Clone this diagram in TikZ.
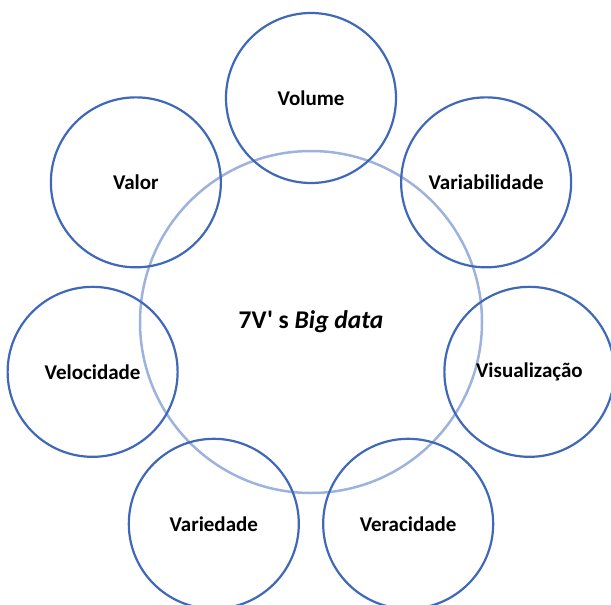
\documentclass[tikz,border=0pt]{standalone}
\usepackage{fontspec}
\usetikzlibrary{calc}
\setmainfont{Carlito}
\newfontfamily\plainfont{Carlito}
\definecolor{outerblue}{HTML}{4068B8}
\definecolor{innerblue}{HTML}{9DB3DE}
\begin{document}
\begin{tikzpicture}[x=1pt,y=-1pt,
  outer/.style={circle,draw=outerblue,line width=2.2pt,minimum size=170pt,inner sep=0pt},
  inner/.style={circle,draw=innerblue,line width=2.5pt,minimum size=342pt,inner sep=0pt},
  lbl/.style={font=\fontsize{21}{24}\selectfont\bfseries}]
\useasboundingbox (0,0) rectangle (611,605);
\node[inner] (c) at (311,322) {};
\node[font=\fontsize{25.5}{30}\selectfont\bfseries] (ct) at (311,322) {{\plainfont 7V' s} \textit{Big data}};
\foreach \n/\a/\t in {vol/-90/Volume, vab/-38.571/Variabilidade, vis/12.857/Visualização,
  ver/64.286/Veracidade, vaa/115.714/Variedade, vel/167.143/Velocidade, val/-141.429/Valor}{
  \node[outer] (\n) at ($(311,322)+(\a:224)$) {};
  \node[lbl] (\n t) at (\n) {\t};
}
\end{tikzpicture}
\end{document}
